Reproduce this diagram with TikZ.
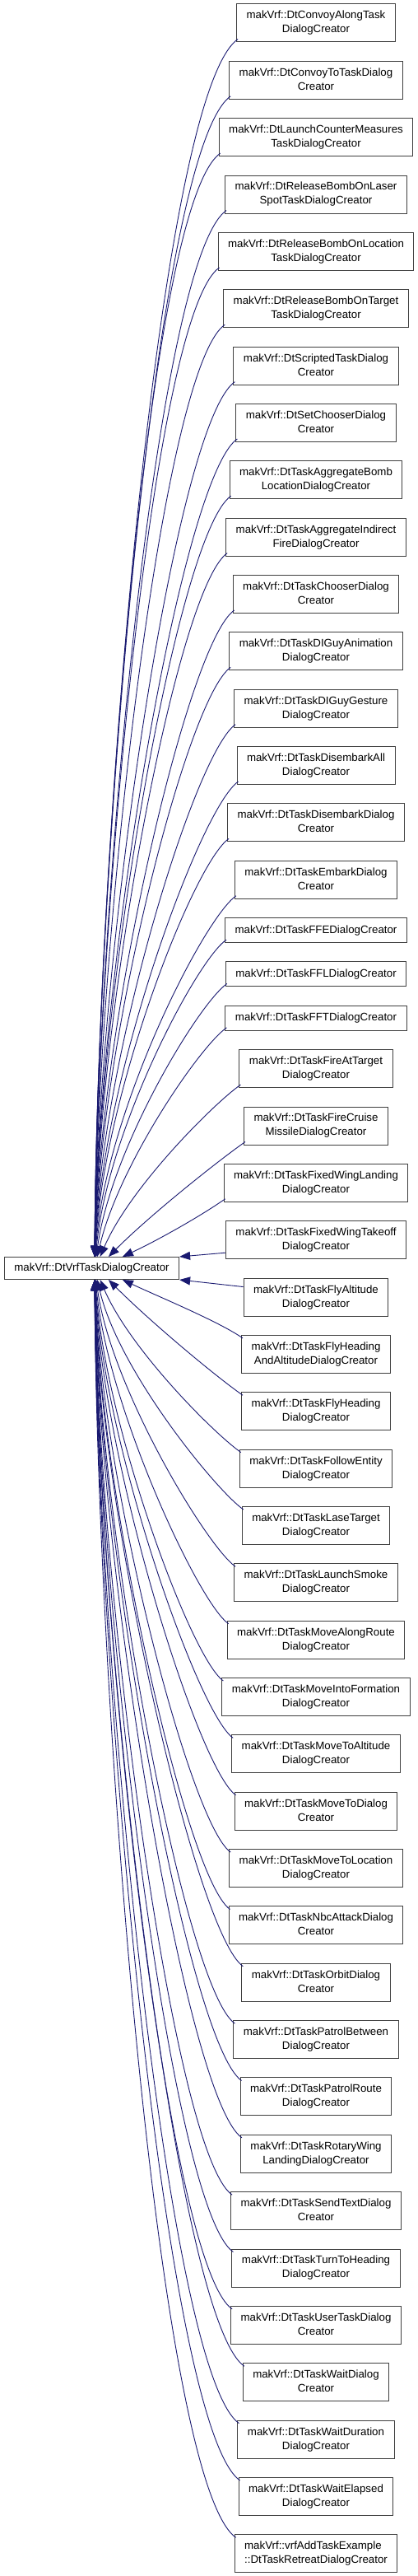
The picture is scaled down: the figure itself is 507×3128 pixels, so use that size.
\documentclass[tikz,border=0pt]{standalone}
\usepackage{fontspec}
\setmainfont{Liberation Sans}
\usetikzlibrary{positioning,arrows.meta}
\tikzset{>={Triangle[length=13pt,width=10pt]}}
\definecolor{edgeColor}{RGB}{25,25,112}
\colorlet{boxLine}{black!75}

\begin{document}
\begin{tikzpicture}[x=1pt,y=1pt,
    cls/.style={draw=boxLine,line width=1pt,align=center,inner xsep=12pt,inner ysep=2pt,
      minimum height=46pt,font=\fontsize{13.3}{17}\selectfont,
      execute at end node={\vphantom{g}}},
    two/.style={},
    one/.style={minimum height=30pt},
    lft/.style={align=left},
    edge/.style={draw=edgeColor,line width=0.9pt,<-}]
  \useasboundingbox (0,0) rectangle (507,-3128);
  % base class
  \node [cls,minimum height=27pt] (vrf) at (111.5,-1540) {makVrf::DtVrfTaskDialogCreator};
  % derived classes
  \node [cls] (task1) at (384,-28) {makVrf::DtConvoyAlongTask\\DialogCreator};
  \foreach \txt/\opt [count=\i from 2] in {
      makVrf::DtConvoyToTaskDialog\\Creator/two,
      makVrf::DtLaunchCounterMeasures\\TaskDialogCreator/two,
      makVrf::DtReleaseBombOnLaser\\SpotTaskDialogCreator/two,
      makVrf::DtReleaseBombOnLocation\\TaskDialogCreator/two,
      makVrf::DtReleaseBombOnTarget\\TaskDialogCreator/two,
      makVrf::DtScriptedTaskDialog\\Creator/two,
      makVrf::DtSetChooserDialog\\Creator/two,
      makVrf::DtTaskAggregateBomb\\LocationDialogCreator/two,
      makVrf::DtTaskAggregateIndirect\\FireDialogCreator/two,
      makVrf::DtTaskChooserDialog\\Creator/two,
      makVrf::DtTaskDIGuyAnimation\\DialogCreator/two,
      makVrf::DtTaskDIGuyGesture\\DialogCreator/two,
      makVrf::DtTaskDisembarkAll\\DialogCreator/two,
      makVrf::DtTaskDisembarkDialog\\Creator/two,
      makVrf::DtTaskEmbarkDialog\\Creator/two,
      makVrf::DtTaskFFEDialogCreator/one,
      makVrf::DtTaskFFLDialogCreator/one,
      makVrf::DtTaskFFTDialogCreator/one,
      makVrf::DtTaskFireAtTarget\\DialogCreator/two,
      makVrf::DtTaskFireCruise\\MissileDialogCreator/two,
      makVrf::DtTaskFixedWingLanding\\DialogCreator/two,
      makVrf::DtTaskFixedWingTakeoff\\DialogCreator/two,
      makVrf::DtTaskFlyAltitude\\DialogCreator/two,
      makVrf::DtTaskFlyHeading\\AndAltitudeDialogCreator/two,
      makVrf::DtTaskFlyHeading\\DialogCreator/two,
      makVrf::DtTaskFollowEntity\\DialogCreator/two,
      makVrf::DtTaskLaseTarget\\DialogCreator/two,
      makVrf::DtTaskLaunchSmoke\\DialogCreator/two,
      makVrf::DtTaskMoveAlongRoute\\DialogCreator/two,
      makVrf::DtTaskMoveIntoFormation\\DialogCreator/two,
      makVrf::DtTaskMoveToAltitude\\DialogCreator/two,
      makVrf::DtTaskMoveToDialog\\Creator/two,
      makVrf::DtTaskMoveToLocation\\DialogCreator/two,
      makVrf::DtTaskNbcAttackDialog\\Creator/two,
      makVrf::DtTaskOrbitDialog\\Creator/two,
      makVrf::DtTaskPatrolBetween\\DialogCreator/two,
      makVrf::DtTaskPatrolRoute\\DialogCreator/two,
      makVrf::DtTaskRotaryWing\\LandingDialogCreator/two,
      makVrf::DtTaskSendTextDialog\\Creator/two,
      makVrf::DtTaskTurnToHeading\\DialogCreator/two,
      makVrf::DtTaskUserTaskDialog\\Creator/two,
      makVrf::DtTaskWaitDialog\\Creator/two,
      makVrf::DtTaskWaitDuration\\DialogCreator/two,
      makVrf::DtTaskWaitElapsed\\DialogCreator/two,
      makVrf::vrfAddTaskExample\\::DtTaskRetreatDialogCreator/lft} {
    \pgfmathtruncatemacro\prev{\i-1}
    \node [cls,\opt,below=22.35pt of task\prev] (task\i) {\txt};
  }
  % inheritance arrows, upper half (d = rows away from the base)
  \foreach \i in {1,...,22} {
    \pgfmathsetmacro\d{22-\i}
    \pgfmathsetmacro\xs{110+34/(1+\d*\d)}
    \pgfmathsetmacro\ang{90-65/(1+0.45*\d*\d)}
    \pgfmathsetmacro\la{49+21*\d}
    \pgfmathsetmacro\lb{(0.2+0.4/(1+0.3*\d*\d))*0.3915*(147+63.5*\d)}
    \draw [edge] ([xshift=\xs pt]vrf.north west) .. controls +(\ang:\la) and +(215:\lb) .. ([xshift=2pt,yshift=4pt]task\i.south west);
  }
  % the two at the side
  \draw [edge] (vrf.north east) -- ([yshift=8pt]task23.south west);
  \draw [edge] (vrf.south east) -- ([yshift=-11pt]task24.north west);
  % lower half
  \foreach \i in {25,...,46} {
    \pgfmathsetmacro\d{\i-25}
    \pgfmathsetmacro\xs{110+34/(1+\d*\d)}
    \pgfmathsetmacro\ang{65/(1+0.45*\d*\d)-90}
    \pgfmathsetmacro\la{49+21*\d}
    \pgfmathsetmacro\lb{(0.2+0.4/(1+0.3*\d*\d))*0.3915*(147+63.5*\d)}
    \draw [edge] ([xshift=\xs pt]vrf.south west) .. controls +(\ang:\la) and +(145:\lb) .. ([xshift=2pt,yshift=-4pt]task\i.north west);
  }
\end{tikzpicture}
\end{document}
